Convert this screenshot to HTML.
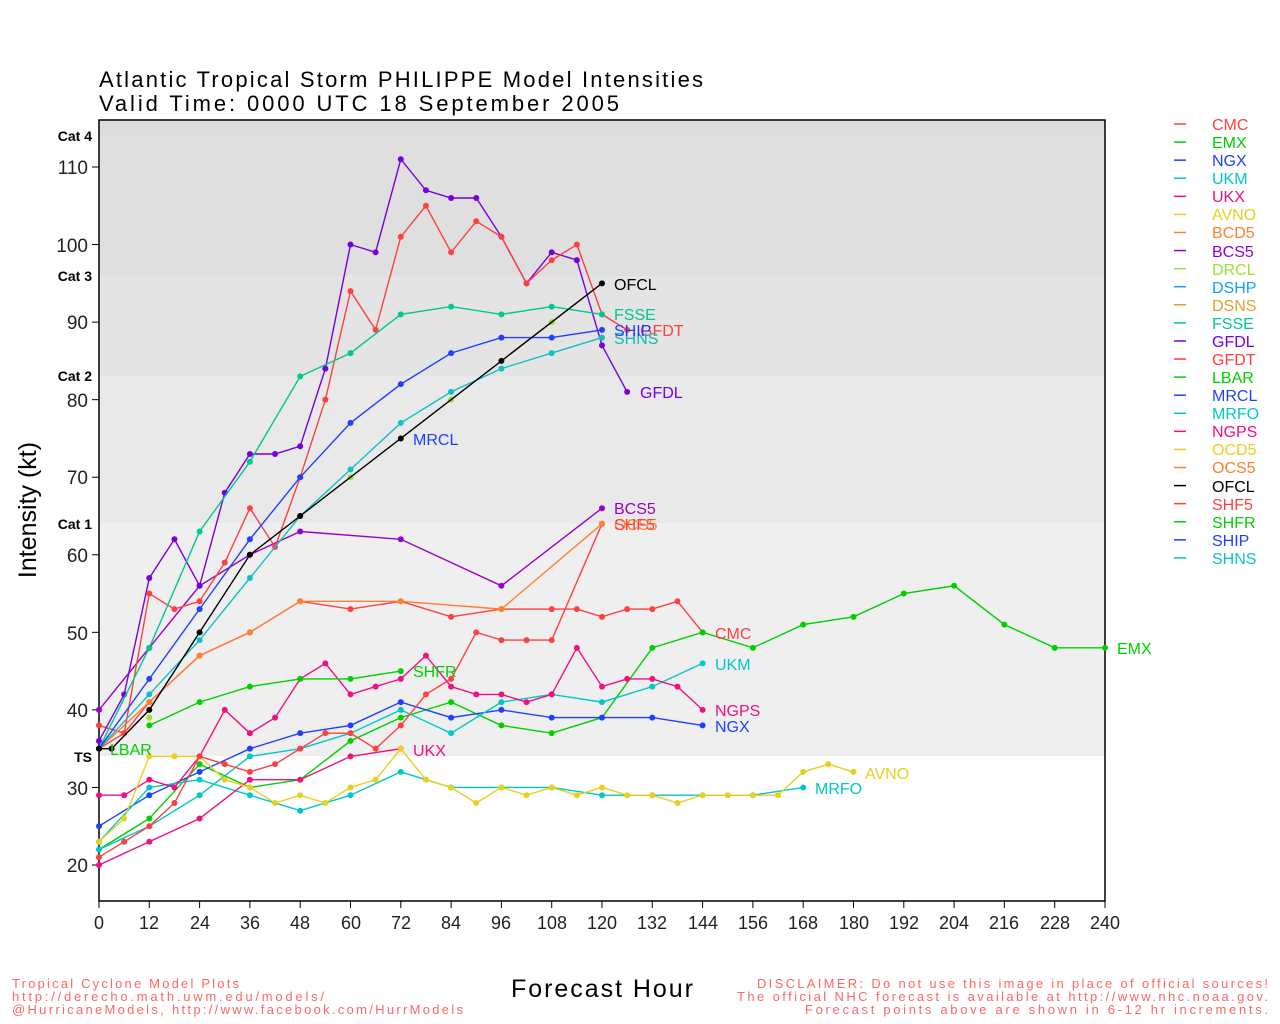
<!DOCTYPE html>
<html><head><meta charset="utf-8"><style>
html,body{margin:0;padding:0;background:#fff;}
svg{display:block;font-family:"Liberation Sans",sans-serif;}
</style></head><body>
<svg id="s" width="1280" height="1024" viewBox="0 0 1280 1024" xmlns="http://www.w3.org/2000/svg">
<rect x="0" y="0" width="1280" height="1024" fill="#fff"/>
<rect x="99" y="120" width="1006" height="16" fill="#dcdcdc"/>
<rect x="99" y="136" width="1006" height="140" fill="#dfdfdf"/>
<rect x="99" y="276" width="1006" height="100" fill="#e4e4e4"/>
<rect x="99" y="376" width="1006" height="147" fill="#e9e9e9"/>
<rect x="99" y="523" width="1006" height="233" fill="#efefef"/>
<rect x="99" y="120" width="1006" height="781" fill="none" stroke="#000" stroke-width="1.5"/>
<g id="grid"></g>
<g id="series"></g>
<g font-size="22" fill="#000">
<text x="99" y="87" textLength="604">Atlantic Tropical Storm PHILIPPE Model Intensities</text>
<text x="99" y="111" textLength="520">Valid Time: 0000 UTC 18 September 2005</text>
</g>
<g font-size="14" font-weight="bold" fill="#000" text-anchor="end">
<text x="92" y="141">Cat 4</text><text x="92" y="281">Cat 3</text><text x="92" y="381">Cat 2</text><text x="92" y="529">Cat 1</text><text x="92" y="762">TS</text>
</g>
<g font-size="19" fill="#222" text-anchor="end">
<text x="88" y="174">110</text><text x="88" y="252">100</text><text x="88" y="329">90</text><text x="88" y="407">80</text><text x="88" y="484">70</text><text x="88" y="562">60</text><text x="88" y="640">50</text><text x="88" y="717">40</text><text x="88" y="795">30</text><text x="88" y="872">20</text>
</g>
<g font-size="18" fill="#222" text-anchor="middle">
<text x="99" y="929">0</text><text x="149" y="929">12</text><text x="200" y="929">24</text><text x="250" y="929">36</text><text x="300" y="929">48</text><text x="351" y="929">60</text><text x="401" y="929">72</text><text x="451" y="929">84</text><text x="501" y="929">96</text><text x="552" y="929">108</text><text x="602" y="929">120</text><text x="652" y="929">132</text><text x="703" y="929">144</text><text x="753" y="929">156</text><text x="803" y="929">168</text><text x="854" y="929">180</text><text x="904" y="929">192</text><text x="954" y="929">204</text><text x="1004" y="929">216</text><text x="1055" y="929">228</text><text x="1105" y="929">240</text>
</g>
<text x="36" y="510" font-size="25" fill="#000" text-anchor="middle" transform="rotate(-90 36 510)">Intensity (kt)</text>
<text x="511" y="997" font-size="25" fill="#000" textLength="182">Forecast Hour</text>
<g font-size="13" fill="#ff6666">
<text x="12" y="988" textLength="227">Tropical Cyclone Model Plots</text>
<text x="12" y="1001" textLength="312">http://derecho.math.uwm.edu/models/</text>
<text x="12" y="1014" textLength="451">@HurricaneModels, http://www.facebook.com/HurrModels</text>
</g>
<g font-size="13" fill="#ff6666">
<text x="757" y="988" textLength="511">DISCLAIMER: Do not use this image in place of official sources!</text>
<text x="737" y="1001" textLength="531">The official NHC forecast is available at http://www.nhc.noaa.gov.</text>
<text x="805" y="1014" textLength="463">Forecast points above are shown in 6-12 hr increments.</text>
</g>
<g font-size="16">
<text x="715" y="639" fill="#ff4040">CMC</text>
<text x="1117" y="654" fill="#00d000">EMX</text>
<text x="715" y="732" fill="#2040ff">NGX</text>
<text x="715" y="670" fill="#00c8c8">UKM</text>
<text x="413" y="756" fill="#f01080">UKX</text>
<text x="865" y="779" fill="#e8d020">AVNO</text>
<text x="815" y="794" fill="#00c8c8">MRFO</text>
<text x="715" y="716" fill="#f01080">NGPS</text>
<text x="413" y="677" fill="#00d000">SHFR</text>
<text x="110" y="755" fill="#00d000">LBAR</text>
<text x="413" y="445" fill="#2040ff">MRCL</text>
<text x="614" y="290" fill="#000">OFCL</text>
<text x="614" y="320" fill="#00c890">FSSE</text>
<text x="640" y="336" fill="#ff4040">GFDT</text>
<text x="614" y="344" fill="#e0a030">SHNS</text>
<text x="614" y="344" fill="#10c0c8">SHNS</text>
<text x="614" y="336" fill="#2040ff">SHIP</text>
<text x="640" y="398" fill="#7700dd">GFDL</text>
<text x="614" y="514" fill="#9900cc">BCS5</text>
<text x="614" y="530" fill="#ff8030">OCS5</text>
<text x="614" y="530" fill="#ff4040">SHF5</text>
</g>
<g font-size="16" id="leg">
<text x="1212" y="130" fill="#ff4040">CMC</text>
<text x="1212" y="148" fill="#00d000">EMX</text>
<text x="1212" y="166" fill="#2040ff">NGX</text>
<text x="1212" y="184" fill="#00c8c8">UKM</text>
<text x="1212" y="202" fill="#f01080">UKX</text>
<text x="1212" y="220" fill="#e8d020">AVNO</text>
<text x="1212" y="238" fill="#ff8030">BCD5</text>
<text x="1212" y="257" fill="#9900cc">BCS5</text>
<text x="1212" y="275" fill="#a0e030">DRCL</text>
<text x="1212" y="293" fill="#10a0ff">DSHP</text>
<text x="1212" y="311" fill="#e0a030">DSNS</text>
<text x="1212" y="329" fill="#00c890">FSSE</text>
<text x="1212" y="347" fill="#7700dd">GFDL</text>
<text x="1212" y="365" fill="#ff4040">GFDT</text>
<text x="1212" y="383" fill="#00d000">LBAR</text>
<text x="1212" y="401" fill="#2040ff">MRCL</text>
<text x="1212" y="419" fill="#00c8c8">MRFO</text>
<text x="1212" y="437" fill="#f01080">NGPS</text>
<text x="1212" y="455" fill="#e8d020">OCD5</text>
<text x="1212" y="473" fill="#ff8030">OCS5</text>
<text x="1212" y="492" fill="#000">OFCL</text>
<text x="1212" y="510" fill="#ff4040">SHF5</text>
<text x="1212" y="528" fill="#00d000">SHFR</text>
<text x="1212" y="546" fill="#2040ff">SHIP</text>
<text x="1212" y="564" fill="#10c0c8">SHNS</text>
</g>
<g id="legl"></g>
</svg>
<script>
var NS="http://www.w3.org/2000/svg";
function X(h){return 99+h*1006/240;}
function Y(v){return 865-(v-20)*698/90;}
function el(n,a,p){var e=document.createElementNS(NS,n);for(var k in a)e.setAttribute(k,a[k]);p.appendChild(e);return e;}
var g=document.getElementById("grid");
[110,100,90,80,70,60,50,40,30,20].forEach(function(v){el("line",{x1:92,x2:99,y1:Y(v),y2:Y(v),stroke:"#000"},g);});
for(var h=0;h<=240;h+=12){el("line",{x1:X(h),x2:X(h),y1:901,y2:908,stroke:"#000"},g);}
var S=[
["#ff4040",[[0,38],[6,37],[12,41],[24,47],[36,50],[48,54],[60,53],[72,54],[84,52],[96,53],[108,53],[114,53],[120,52],[126,53],[132,53],[138,54],[144,50]]],
["#00d000",[[0,22],[12,26],[24,33],[36,30],[48,31],[60,36],[72,39],[84,41],[96,38],[108,37],[120,39],[132,48],[144,50],[156,48],[168,51],[180,52],[192,55],[204,56],[216,51],[228,48],[240,48]]],
["#2040ff",[[0,25],[12,29],[24,32],[36,35],[48,37],[60,38],[72,41],[84,39],[96,40],[108,39],[120,39],[132,39],[144,38]]],
["#00c8c8",[[0,22],[12,25],[24,29],[36,34],[48,35],[60,37],[72,40],[84,37],[96,41],[108,42],[120,41],[132,43],[144,46]]],
["#00c8c8",[[0,23],[12,30],[24,31],[36,29],[48,27],[60,29],[72,32],[78,31],[84,30],[96,30],[108,30],[120,29],[132,29],[144,29],[156,29],[168,30]]],
["#f01080",[[0,20],[12,23],[24,26],[36,31],[48,31],[60,34],[72,35]]],
["#f01080",[[0,29],[6,29],[12,31],[18,30],[24,34],[30,40],[36,37],[42,39],[48,44],[54,46],[60,42],[66,43],[72,44],[78,47],[84,43],[90,42],[96,42],[102,41],[108,42],[114,48],[120,43],[126,44],[132,44],[138,43],[144,40]]],
["#e8d020",[[0,23],[6,26],[12,34],[18,34],[24,34],[30,31],[36,30],[42,28],[48,29],[54,28],[60,30],[66,31],[72,35],[78,31],[84,30],[90,28],[96,30],[102,29],[108,30],[114,29],[120,30],[126,29],[132,29],[138,28],[144,29],[150,29],[156,29],[162,29],[168,32],[174,33],[180,32]]],
["#ff4040",[[0,21],[6,23],[12,25],[18,28],[24,34],[30,33],[36,32],[42,33],[48,35],[54,37],[60,37],[66,35],[72,38],[78,42],[84,44],[90,50],[96,49],[102,49],[108,49],[120,64]]],
["#00d000",[[12,38],[24,41],[36,43],[48,44],[60,44],[72,45]]],
["#ff8030",[[0,35],[12,41],[24,47],[36,50],[48,54],[72,54],[96,53],[120,64]]],
["#9900cc",[[0,40],[12,48],[24,56],[36,60],[48,63],[72,62],[96,56],[120,66]]],
["#7700dd",[[0,36],[6,42],[12,57],[18,62],[24,56],[30,68],[36,73],[42,73],[48,74],[54,84],[60,100],[66,99],[72,111],[78,107],[84,106],[90,106],[96,101],[102,95],[108,99],[114,98],[120,87],[126,81]]],
["#ff4040",[[0,35],[6,37],[12,55],[18,53],[24,54],[30,59],[36,66],[42,61],[48,70],[54,80],[60,94],[66,89],[72,101],[78,105],[84,99],[90,103],[96,101],[102,95],[108,98],[114,100],[120,91],[126,89]]],
["#00c890",[[0,35],[12,48],[24,63],[36,72],[48,83],[60,86],[72,91],[84,92],[96,91],[108,92],[120,91]]],
["#10c0c8",[[0,35],[12,42],[24,49],[36,57],[48,65],[60,71],[72,77],[84,81],[96,84],[108,86],[120,88]]],
["#2040ff",[[0,35],[12,44],[24,53],[36,62],[48,70],[60,77],[72,82],[84,86],[96,88],[108,88],[120,89]]],
["#a0e030",[[12,39],[60,70],[84,80],[108,90]],1],
["#000",[[0,35],[3,35],[12,40],[24,50],[36,60],[48,65],[72,75],[96,85],[120,95]]]
];
var sg=document.getElementById("series");
S.forEach(function(s){
 var pts=s[1].map(function(p){return X(p[0]).toFixed(1)+","+Y(p[1]).toFixed(1);}).join(" ");
 if(!s[2]) el("polyline",{points:pts,fill:"none",stroke:s[0],"stroke-width":1.4},sg);
 s[1].forEach(function(p){el("circle",{cx:X(p[0]),cy:Y(p[1]),r:3,fill:s[0]},sg);});
});
var lc=["#ff4040","#00d000","#2040ff","#00c8c8","#f01080","#e8d020","#ff8030","#9900cc","#a0e030","#10a0ff","#e0a030","#00c890","#7700dd","#ff4040","#00d000","#2040ff","#00c8c8","#f01080","#e8d020","#ff8030","#000","#ff4040","#00d000","#2040ff","#10c0c8"];
var lg=document.getElementById("legl");
lc.forEach(function(c,i){var y=124+i*18.08;el("line",{x1:1174,x2:1186,y1:y,y2:y,stroke:c,"stroke-width":1.5},lg);});
</script>
</body></html>
